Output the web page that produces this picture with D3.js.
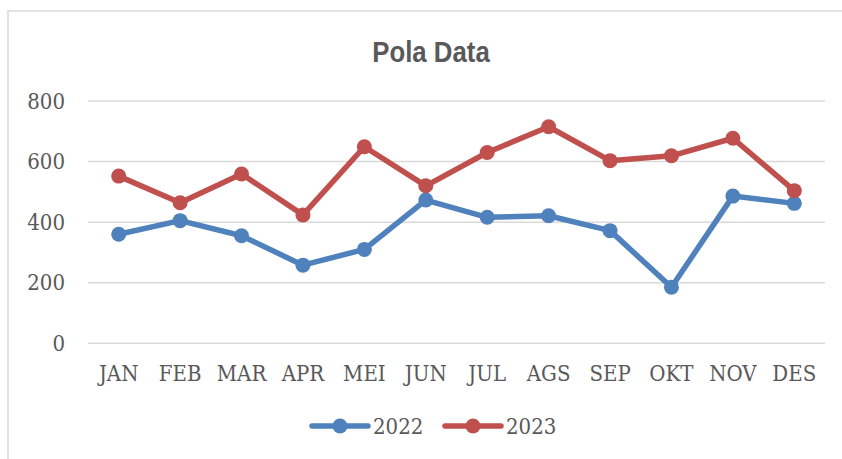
<!DOCTYPE html>
<html>
<head>
<meta charset="utf-8">
<script src="https://cdn.jsdelivr.net/npm/d3@7/dist/d3.min.js"></script>
<style>
  html, body { margin: 0; padding: 0; background: #fff; }
  svg { display: block; }
  .serif { font-family: "DejaVu Serif Condensed", "DejaVu Serif", serif; font-stretch: condensed; fill: #595959; }
</style>
</head>
<body>
<svg id="chart" width="842" height="459"></svg>
<script>
const months = ["JAN","FEB","MAR","APR","MEI","JUN","JUL","AGS","SEP","OKT","NOV","DES"];
const values2022 = [360, 405, 355, 258, 310, 473, 416, 421, 372, 185, 486, 462];
const values2023 = [552, 464, 559, 424, 649, 520, 630, 715, 603, 619, 677, 504];
const seriesNames = ["2022", "2023"];
const seriesColors = ["#4F81BD", "#C0504D"];
const yTicks = [0, 200, 400, 600, 800];
const title = "Pola Data";

const svg = d3.select("#chart");

// chart border
svg.append("rect")
  .attr("x", 8).attr("y", 11)
  .attr("width", 850).attr("height", 460)
  .attr("fill", "none").attr("stroke", "#d9d9d9").attr("stroke-width", 1.5);

const x = d3.scaleBand().domain(months).range([88, 825]).padding(0);
const y = d3.scaleLinear().domain([0, 800]).range([343.3, 101]);

// title (condensed bold sans)
svg.append("text")
  .attr("transform", "translate(431,62) scale(0.86,1)")
  .attr("text-anchor", "middle")
  .style("font-family", "'Liberation Sans Narrow', 'Liberation Sans', Arial, sans-serif")
  .style("font-weight", "bold")
  .style("font-size", "30px")
  .style("fill", "#595959")
  .text(title);

// y axis labels
const yAxis = d3.axisLeft(y).tickValues(yTicks).tickSize(0).tickPadding(23);
const gy = svg.append("g").attr("transform", "translate(88,0)").call(yAxis);
gy.select(".domain").remove();
gy.selectAll("text").attr("class", "serif").style("font-size", "22px").attr("fill", "#595959");

// gridlines
svg.append("g").selectAll("line").data(yTicks).join("line")
  .attr("x1", 88).attr("x2", 825)
  .attr("y1", d => y(d)).attr("y2", d => y(d))
  .attr("stroke", "#d9d9d9").attr("stroke-width", 1.5);

// x axis labels
const xAxis = d3.axisBottom(x).tickSize(0).tickPadding(22);
const gx = svg.append("g").attr("transform", `translate(0,${y(0)})`).call(xAxis);
gx.select(".domain").remove();
gx.selectAll("text").attr("class", "serif").style("font-size", "22px").attr("fill", "#595959");

const allSeries = [values2022, values2023];
const line = d3.line().x((d, i) => x(months[i]) + x.bandwidth() / 2).y(d => y(d));

allSeries.forEach((vals, si) => {
  const g = svg.append("g");
  g.append("path").datum(vals)
    .attr("d", line)
    .attr("fill", "none")
    .attr("stroke", seriesColors[si])
    .attr("stroke-width", 5.5)
    .attr("stroke-linejoin", "round")
    .attr("stroke-linecap", "round");
  g.selectAll("circle").data(vals).join("circle")
    .attr("cx", (d, i) => x(months[i]) + x.bandwidth() / 2)
    .attr("cy", d => y(d))
    .attr("r", 7.5)
    .attr("fill", seriesColors[si]);
});

// legend
const legendX = [312, 445];
seriesNames.forEach((name, i) => {
  const lx = legendX[i];
  const g = svg.append("g");
  g.append("line").attr("x1", lx).attr("x2", lx + 56).attr("y1", 426).attr("y2", 426)
    .attr("stroke", seriesColors[i]).attr("stroke-width", 5.5).attr("stroke-linecap", "round");
  g.append("circle").attr("cx", lx + 28).attr("cy", 426).attr("r", 7.5).attr("fill", seriesColors[i]);
  g.append("text").attr("class", "serif").attr("x", lx + 61).attr("y", 434)
    .style("font-size", "22px").text(name);
});
</script>
</body>
</html>
